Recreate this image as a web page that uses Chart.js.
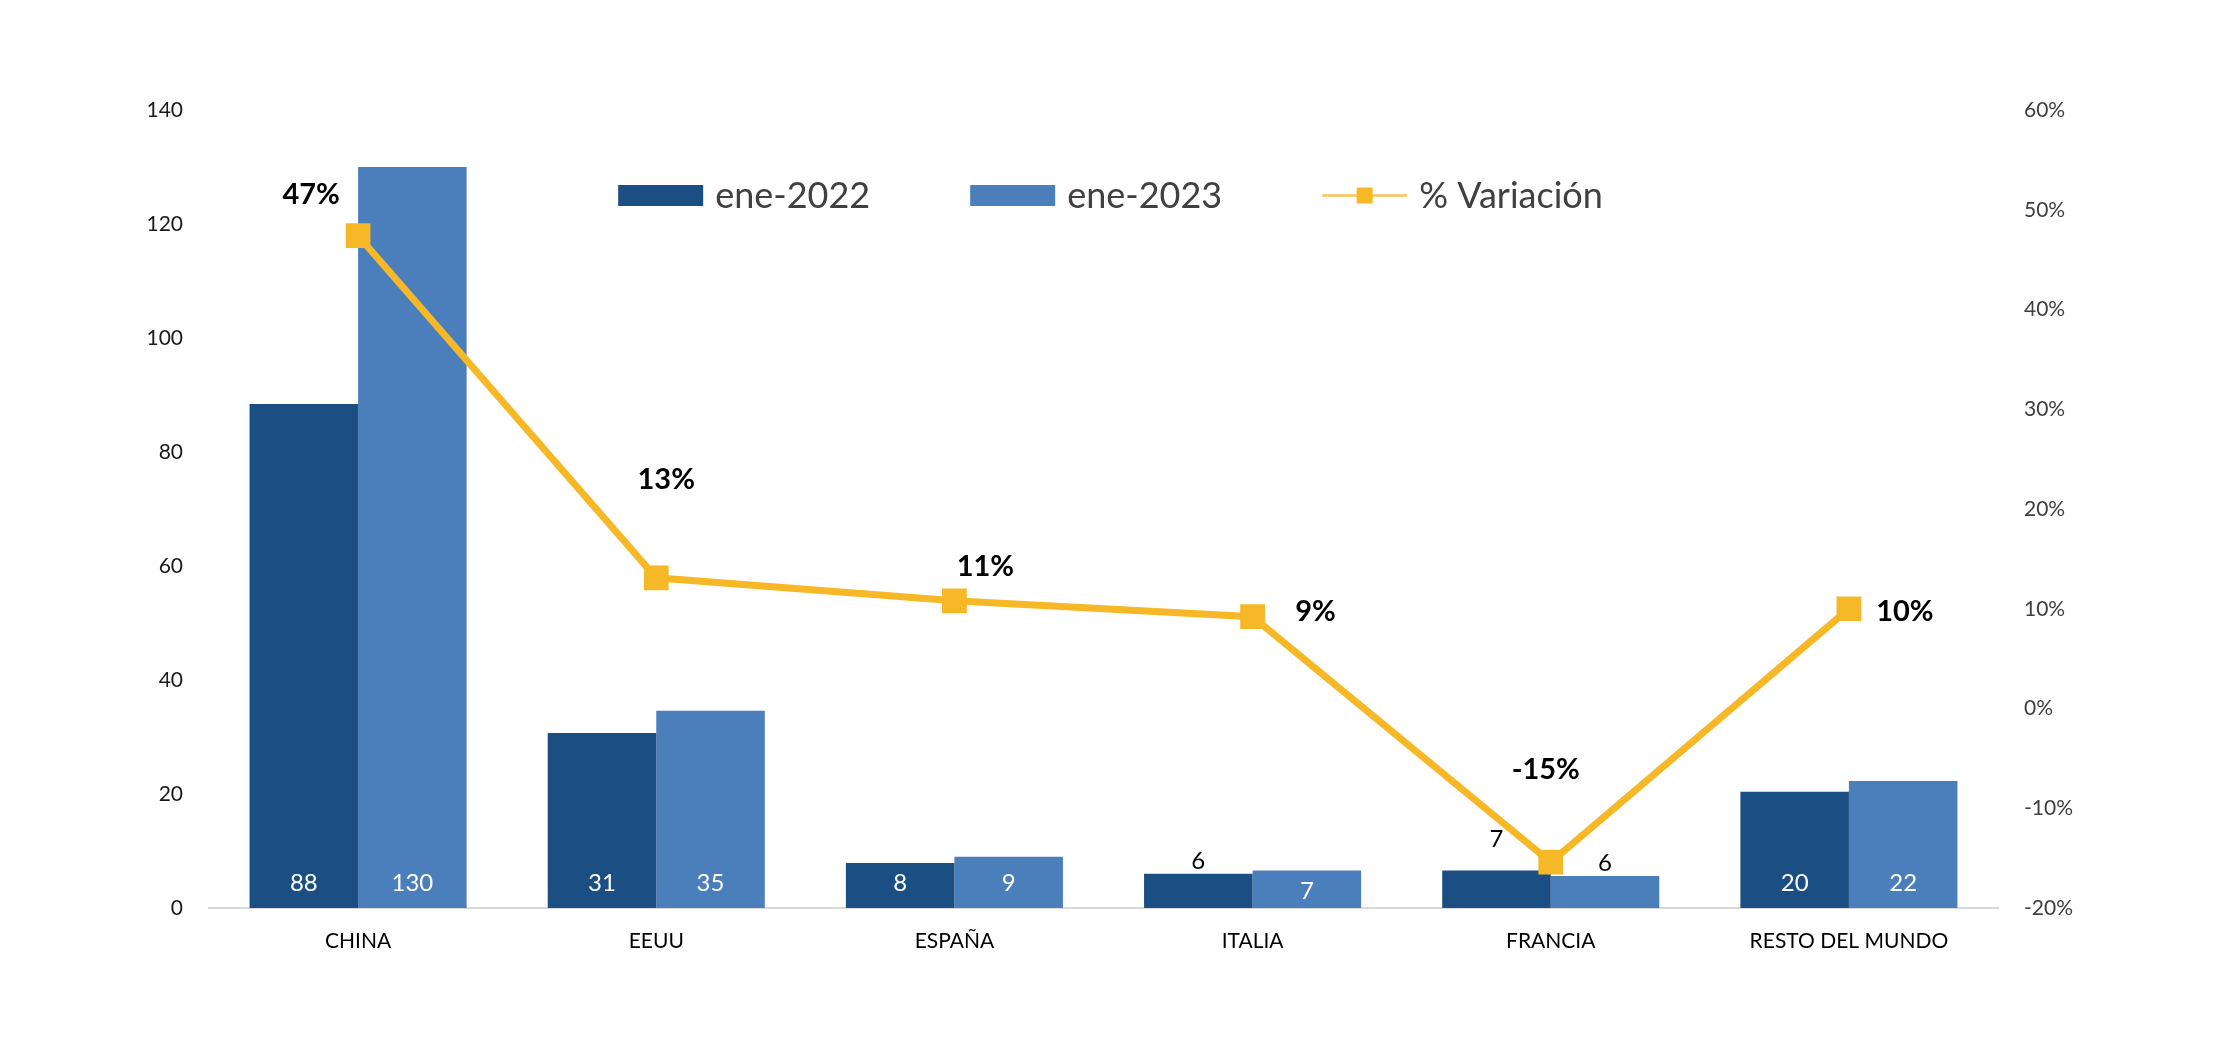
<!DOCTYPE html>
<html lang="es">
<head>
<meta charset="utf-8">
<title>Ene-2022 vs ene-2023 por destino</title>
<script src="https://cdn.jsdelivr.net/npm/chart.js@4.4.1/dist/chart.umd.min.js"></script>
<style>
  html, body { margin: 0; padding: 0; background: #fff; }
  #wrap { width: 2220px; height: 1043px; }
</style>
</head>
<body>
<div id="wrap"><canvas id="mainChart" width="2220" height="1043"></canvas></div>
<script>
/* ── DATOS ── */
const paises = ["CHINA", "EEUU", "ESPAÑA", "ITALIA", "FRANCIA", "RESTO DEL MUNDO"];
const ene2022 = [88.4, 30.7, 7.9, 6.0, 6.6, 20.4];
const ene2023 = [130.0, 34.6, 9.0, 6.6, 5.6, 22.3];
const variacion = [47.4, 13.1, 10.8, 9.2, -15.4, 10.0]; // en %
const ticksIzq = [0, 20, 40, 60, 80, 100, 120, 140];
const ticksDer = [-20, -10, 0, 10, 20, 30, 40, 50, 60];

/* ── ESTILO DE ETIQUETAS (posición, no datos) ── */
const posLabel2022 = ["base", "base", "base", "top", "high", "base"];
const posLabel2023 = ["base", "base", "base", "mid", "top", "base"];
const offVar = [[-47, -41], [10, -98], [31, -34], [63, -5], [-5, -92], [56, 3]];

const AZUL_OSC = "#1B4F83";
const AZUL_CLA = "#4B7FBC";
const AMARILLO = "#F6B826";
const FUENTE = "Lato, 'Open Sans', sans-serif";

// etiquetas de valores sobre barras y línea
const etiquetas = {
    id: "etiquetas",
    afterDatasetsDraw(chart) {
        const ctx = chart.ctx;
        const yBase = chart.scales.y.getPixelForValue(0);
        ctx.save();
        ctx.textAlign = "center";
        ctx.textBaseline = "middle";
        ctx.font = "24px " + FUENTE;
        [0, 1].forEach((di) => {
            const modos = di === 0 ? posLabel2022 : posLabel2023;
            chart.getDatasetMeta(di).data.forEach((bar, i) => {
                const v = chart.data.datasets[di].data[i];
                const modo = modos[i];
                let y;
                let color = "#ffffff";
                if (modo === "base") y = yBase - 25;
                else if (modo === "mid") y = (bar.y + yBase) / 2 + 2;
                else {
                    color = "#000000";
                    y = bar.y - (modo === "high" ? 31 : 13);
                }
                ctx.fillStyle = color;
                ctx.fillText(String(Math.round(v)), bar.x, y);
            });
        });
        ctx.font = "bold 29px " + FUENTE;
        ctx.fillStyle = "#000000";
        chart.getDatasetMeta(2).data.forEach((pt, i) => {
            const v = chart.data.datasets[2].data[i];
            ctx.fillText(Math.round(v) + "%", pt.x + offVar[i][0], pt.y + offVar[i][1]);
        });
        ctx.restore();
    },
};

// leyenda dentro del área del gráfico
const leyenda = {
    id: "leyenda",
    afterDraw(chart) {
        const ctx = chart.ctx;
        const ds = chart.data.datasets;
        const boxW = 85, boxH = 21, gapTxt = 12, gapItem = 100, yc = 195.5;
        ctx.save();
        ctx.font = "36px " + FUENTE;
        ctx.textBaseline = "middle";
        ctx.textAlign = "left";
        const widths = ds.map((d) => boxW + gapTxt + ctx.measureText(d.label).width);
        const total = widths.reduce((a, b) => a + b, 0) + gapItem * (ds.length - 1);
        let x = (chart.chartArea.left + chart.chartArea.right) / 2 + 7 - total / 2;
        ds.forEach((d, i) => {
            if (d.type === "line") {
                ctx.strokeStyle = "#F8C550";
                ctx.lineWidth = 2.5;
                ctx.beginPath();
                ctx.moveTo(x, yc);
                ctx.lineTo(x + boxW, yc);
                ctx.stroke();
                ctx.fillStyle = d.borderColor;
                ctx.fillRect(x + boxW / 2 - 8, yc - 8, 16, 16);
            } else {
                ctx.fillStyle = d.backgroundColor;
                ctx.fillRect(x, yc - boxH / 2, boxW, boxH);
            }
            ctx.fillStyle = "#404040";
            ctx.fillText(d.label, x + boxW + gapTxt, yc + 1);
            x += widths[i] + gapItem;
        });
        ctx.restore();
    },
};

const ctx = document.getElementById("mainChart").getContext("2d");

new Chart(ctx, {
    type: "bar",
    data: {
        labels: paises,
        datasets: [
            {
                label: "ene-2022",
                data: ene2022,
                backgroundColor: AZUL_OSC,
                yAxisID: "y",
                order: 1,
                categoryPercentage: 0.728,
                barPercentage: 1.0,
            },
            {
                label: "ene-2023",
                data: ene2023,
                backgroundColor: AZUL_CLA,
                yAxisID: "y",
                order: 1,
                categoryPercentage: 0.728,
                barPercentage: 1.0,
            },
            {
                type: "line",
                label: "% Variación",
                data: variacion,
                yAxisID: "y1",
                order: 0,
                borderColor: AMARILLO,
                backgroundColor: AMARILLO,
                borderWidth: 7,
                tension: 0,
                pointStyle: "rect",
                pointRadius: 17.5,
                pointBorderWidth: 0,
                pointBackgroundColor: AMARILLO,
            },
        ],
    },
    options: {
        responsive: false,
        animation: false,
        devicePixelRatio: 1,
        layout: { padding: { top: 110, left: 0, right: 0, bottom: 0 } },
        plugins: {
            legend: { display: false },
            tooltip: { enabled: false },
        },
        scales: {
            x: {
                grid: { display: false, drawTicks: false },
                border: { display: true, color: "#D9D9D9", width: 2 },
                ticks: {
                    color: "#000000",
                    padding: 21,
                    font: { family: FUENTE, size: 21 },
                    maxRotation: 0,
                },
                afterFit(scale) { scale.height = 135; },
            },
            y: {
                position: "left",
                min: ticksIzq[0],
                max: ticksIzq[ticksIzq.length - 1],
                grid: { display: false, drawTicks: false },
                border: { display: false },
                ticks: {
                    stepSize: ticksIzq[1] - ticksIzq[0],
                    color: "#1A1A1A",
                    padding: 26,
                    font: { family: FUENTE, size: 21 },
                },
                afterFit(scale) { scale.width = 209; },
            },
            y1: {
                position: "right",
                min: ticksDer[0],
                max: ticksDer[ticksDer.length - 1],
                grid: { display: false, drawTicks: false },
                border: { display: false },
                ticks: {
                    stepSize: ticksDer[1] - ticksDer[0],
                    color: "#404040",
                    padding: 26,
                    font: { family: FUENTE, size: 21 },
                    callback: (v) => v + "%",
                },
                afterFit(scale) { scale.width = 222; },
            },
        },
    },
    plugins: [etiquetas, leyenda],
});
</script>
</body>
</html>
